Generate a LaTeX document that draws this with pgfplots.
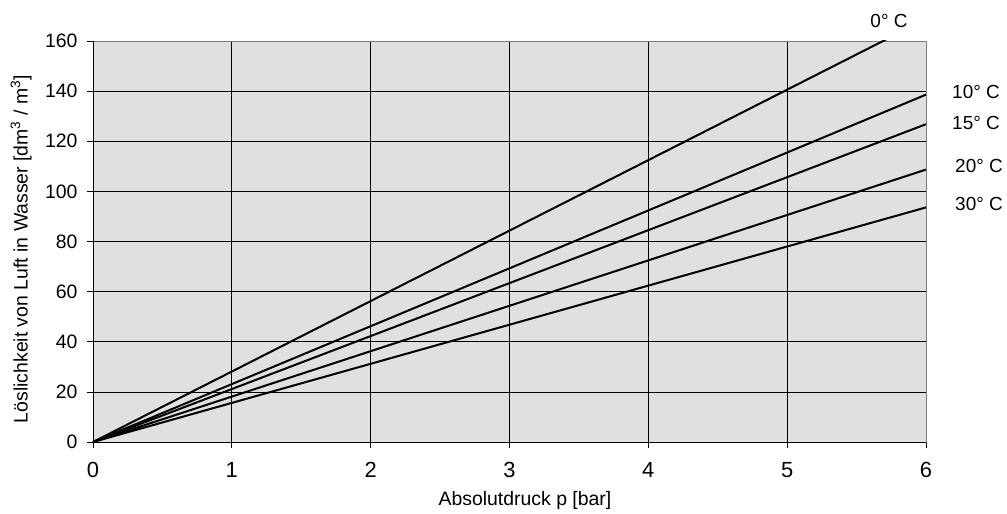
\documentclass[border=0pt]{standalone}
\usepackage{fontspec}
\setmainfont{Liberation Sans}
\usepackage{pgfplots}
\pgfplotsset{compat=1.18}
\definecolor{plotbg}{HTML}{E0E0E0}
\definecolor{frame}{HTML}{808080}
\begin{document}
\begin{tikzpicture}
\begin{axis}[
  at={(0,0)}, anchor=south west,
  scale only axis, width=833bp, height=401bp,
  xmin=0, xmax=6, ymin=0, ymax=160,
  xtick={0,1,...,6}, ytick={0,20,...,160},
  axis background/.style={fill=plotbg},
  grid=major, major grid style={black, line width=0.7pt},
  axis line style={frame, line width=0.9pt},
  tick style={black, line width=0.7pt},
  tick align=outside, major tick length=6bp,
  xtick pos=bottom, ytick pos=left,
  /pgf/number format/assume math mode=true,
  x tick label style={font=\fontsize{22}{26}\selectfont, yshift=-11bp},
  y tick label style={font=\fontsize{19.5}{23}\selectfont, xshift=-6bp},
  xlabel={Absolutdruck p [bar]},
  ylabel={Löslichkeit von Luft in Wasser [dm\textsuperscript{3} / m\textsuperscript{3}]},
  label style={font=\fontsize{19.5}{23}\selectfont},
  xlabel style={at={(axis description cs:0.5186,-0.1446)}, anchor=center},
  ylabel style={at={(axis description cs:-0.0864,0.481)}, anchor=center},
  clip=true,
]
% Löslichkeit ~ linear im Absolutdruck, Steigung je Temperatur
\addplot[black, line width=2bp, mark=none] coordinates {(0,0) (6,168.7)};   % 0 °C
\addplot[black, line width=2bp, mark=none] coordinates {(0,0) (6,138.6)};   % 10 °C
\addplot[black, line width=2bp, mark=none] coordinates {(0,0) (6,126.8)};   % 15 °C
\addplot[black, line width=2bp, mark=none] coordinates {(0,0) (6,108.7)};   % 20 °C
\addplot[black, line width=2bp, mark=none] coordinates {(0,0) (6,93.6)};    % 30 °C
\draw[black, line width=0.9pt] (rel axis cs:0,0) -- (rel axis cs:0,1);
\draw[black, line width=0.9pt] (rel axis cs:0,0) -- (rel axis cs:1,0);
\end{axis}
\begin{scope}[every node/.style={font=\fontsize{19}{22}\selectfont}]
\node at (796bp,421bp) {0° C};
\node at (883bp,350bp) {10° C};
\node at (883bp,319bp) {15° C};
\node at (886bp,276bp) {20° C};
\node at (886bp,238bp) {30° C};
\end{scope}
\pgfresetboundingbox
\path (-93bp,-72bp) rectangle (914bp,442bp);
\end{tikzpicture}
\end{document}
